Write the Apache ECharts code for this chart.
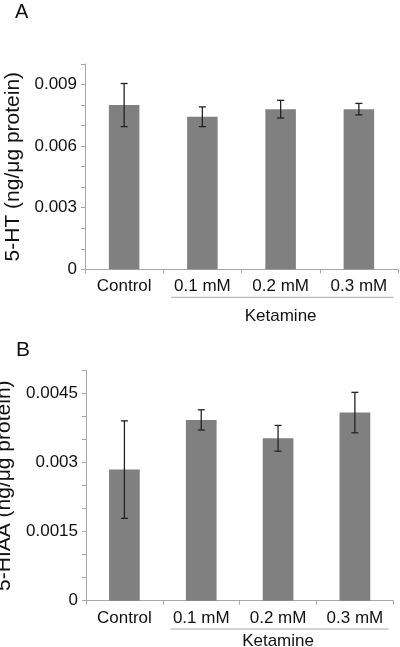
<!DOCTYPE html>
<html>
<head>
<meta charset="utf-8">
<script src="https://cdn.jsdelivr.net/npm/echarts@6/dist/echarts.min.js"></script>
<style>
html,body{margin:0;padding:0;background:#fff;}
#c{width:400px;height:647px;}
</style>
</head>
<body>
<div id="c"></div>
<script>
const categories = ['Control', '0.1 mM', '0.2 mM', '0.3 mM'];
const groupLabel = 'Ketamine';
const htMeans = [0.0080, 0.00743, 0.0078, 0.0078];
const htErrors = [0.00105, 0.00048, 0.00043, 0.00028];
const hiaaMeans = [0.00285, 0.00393, 0.00353, 0.00409];
const hiaaErrors = [0.00106, 0.00022, 0.00028, 0.00044];
const htTickLabels = ['0', '0.003', '0.006', '0.009'];
const hiaaTickLabels = ['0', '0.0015', '0.003', '0.0045'];
const htAxisName = '5-HT (ng/\u03bcg protein)';
const hiaaAxisName = '5-HIAA (ng/\u03bcg protein)';
const panelLabels = ['A', 'B'];

const FONT = '"Liberation Sans", Arial, sans-serif';
const TEXT = '#111';
const chart = echarts.init(document.getElementById('c'), null, {renderer: 'canvas'});

function fmt(labels) {
  return function (v) {
    const s = String(+(+v).toFixed(6));
    return labels.indexOf(s) >= 0 ? s : '';
  };
}

function errSeries(idx, means, errs) {
  return {
    type: 'custom',
    xAxisIndex: idx, yAxisIndex: idx,
    data: means.map((m, i) => [i, m - errs[i], m + errs[i]]),
    z: 10,
    renderItem: function (params, api) {
      const lo = api.coord([api.value(0), api.value(1)]);
      const hi = api.coord([api.value(0), api.value(2)]);
      const hw = 3.5;
      const st = {stroke: '#222', lineWidth: 1.3};
      return {
        type: 'group',
        children: [
          {type: 'line', shape: {x1: hi[0], y1: hi[1], x2: lo[0], y2: lo[1]}, style: st},
          {type: 'line', shape: {x1: hi[0] - hw, y1: hi[1], x2: hi[0] + hw, y2: hi[1]}, style: st},
          {type: 'line', shape: {x1: lo[0] - hw, y1: lo[1], x2: lo[0] + hw, y2: lo[1]}, style: st}
        ]
      };
    }
  };
}

function xAxisDef(idx) {
  return {
    type: 'category', gridIndex: idx, data: categories,
    axisLine: {show: true, lineStyle: {color: '#a8a8a8', width: 1}},
    axisTick: {show: true, length: 4, lineStyle: {color: '#a8a8a8'}},
    axisLabel: {color: TEXT, fontSize: 17, fontFamily: FONT, margin: 9, interval: 0}
  };
}
function yAxisDef(idx, max, interval, labels, name, gap) {
  return {
    type: 'value', gridIndex: idx, min: 0, max: max, interval: interval,
    name: name, nameLocation: 'middle', nameGap: gap, nameRotate: 90,
    nameTextStyle: {color: TEXT, fontSize: 21, fontFamily: FONT},
    splitLine: {show: false},
    axisLine: {show: true, lineStyle: {color: '#a8a8a8', width: 1}},
    axisTick: {show: true, length: 4, inside: false, lineStyle: {color: '#a8a8a8'}},
    axisLabel: {color: TEXT, fontSize: 17, fontFamily: FONT, margin: 8, formatter: fmt(labels), showMinLabel: true, showMaxLabel: true}
  };
}

const option = {
  animation: false,
  backgroundColor: '#fff',
  grid: [
    {left: 85, top: 64, width: 313, height: 205.3, containLabel: false, outerBoundsMode: 'none'},
    {left: 86, top: 370.7, width: 307.3, height: 230, containLabel: false, outerBoundsMode: 'none'}
  ],
  xAxis: [xAxisDef(0), xAxisDef(1)],
  yAxis: [
    yAxisDef(0, 0.010, 0.001, htTickLabels, htAxisName, 61),
    yAxisDef(1, 0.005, 0.0005, hiaaTickLabels, hiaaAxisName, 50)
  ],
  series: [
    {type: 'bar', xAxisIndex: 0, yAxisIndex: 0, data: htMeans, barWidth: '39%',
     itemStyle: {color: '#808080'}},
    errSeries(0, htMeans, htErrors),
    {type: 'bar', xAxisIndex: 1, yAxisIndex: 1, data: hiaaMeans, barWidth: '40%',
     itemStyle: {color: '#808080'}},
    errSeries(1, hiaaMeans, hiaaErrors)
  ]
};
chart.setOption(option);

// Group annotation (Ketamine) placed from axis positions
const elements = [];
const lineOffsets = [28, 28.3];
const textOffsets = [47, 41];
[0, 1].forEach(function (g) {
  const c1 = chart.convertToPixel({xAxisIndex: g}, categories[1]);
  const c2 = chart.convertToPixel({xAxisIndex: g}, categories[2]);
  const c3 = chart.convertToPixel({xAxisIndex: g}, categories[3]);
  const band = c2 - c1;
  const y0 = chart.convertToPixel({yAxisIndex: g}, 0);
  const x1 = c1 - band * 0.4;
  const x2 = c3 + band * 0.44;
  elements.push({
    type: 'line', silent: true,
    shape: {x1: x1, y1: y0 + lineOffsets[g], x2: x2, y2: y0 + lineOffsets[g]},
    style: {stroke: '#a8a8a8', lineWidth: 1}
  });
  elements.push({
    type: 'text', silent: true,
    x: (c1 - band / 2 + c3 + band / 2) / 2, y: y0 + textOffsets[g],
    style: {text: groupLabel, font: '17px ' + FONT, fill: TEXT, textAlign: 'center', textVerticalAlign: 'middle'}
  });
});
elements.push({type: 'text', x: 15, y: 2, style: {text: panelLabels[0], font: '20px ' + FONT, fill: '#111'}});
elements.push({type: 'text', x: 16, y: 340, style: {text: panelLabels[1], font: '21px ' + FONT, fill: '#111'}});
chart.setOption({graphic: {elements: elements}});
</script>
</body>
</html>
